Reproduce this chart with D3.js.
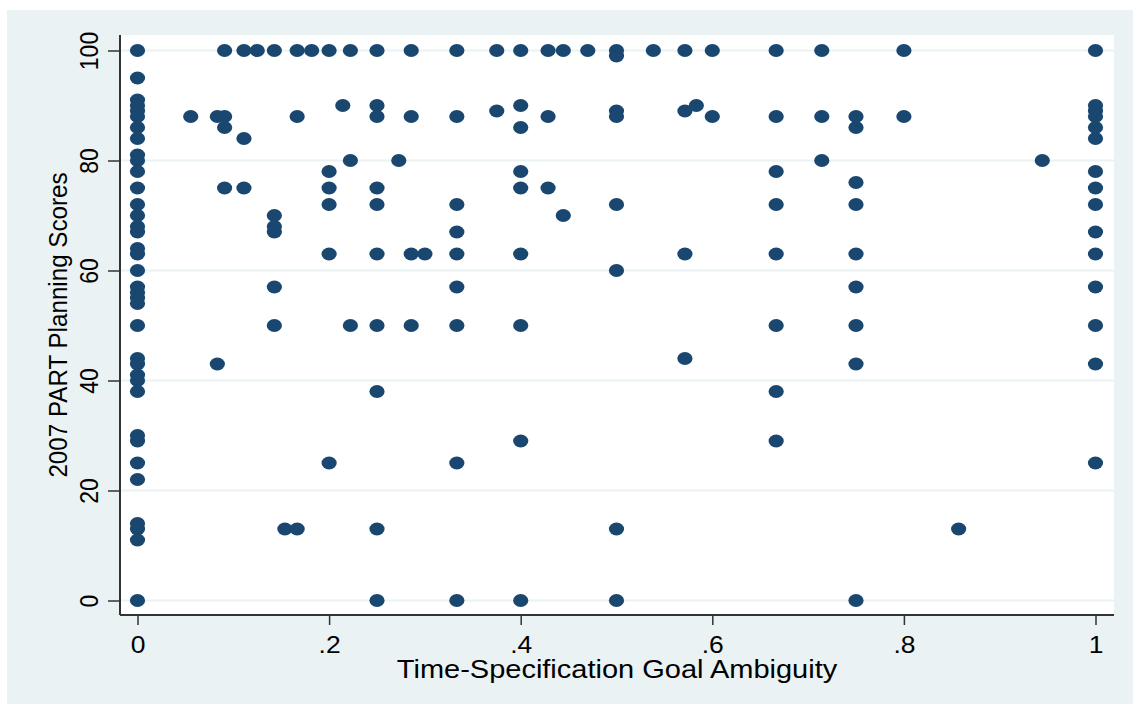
<!DOCTYPE html>
<html>
<head>
<meta charset="utf-8">
<script src="https://cdn.jsdelivr.net/npm/d3@7"></script>
<style>
  body { margin: 0; background: #fff; }
  text { font-family: "Liberation Sans", Arial, sans-serif; fill: #000; }
</style>
</head>
<body>
<svg width="1133" height="704"></svg>
<script>
// x positions (goal ambiguity) and the planning scores stacked at each one
const ambiguity = [0, 1/18, 1/12, 1/11, 1/9, 1/8, 1/7, 2/13, 1/6, 2/11, 0.2, 3/14, 2/9, 0.25, 3/11, 2/7, 0.3, 1/3,
  0.375, 0.4, 3/7, 4/9, 0.47, 0.5, 7/13, 4/7, 7/12, 0.6, 2/3, 5/7, 0.75, 0.8, 6/7, 17/18, 1];

const scores = [
  [100, 95, 91, 90, 89, 88, 86, 84, 81, 80, 78, 75, 72, 70, 68, 67, 64, 63, 60, 57, 56, 55, 54, 50, 44, 43, 41, 40, 38, 30, 29, 25, 22, 14, 13, 11, 0],
  [88],
  [88, 43],
  [100, 88, 86, 75],
  [100, 84, 75],
  [100],
  [100, 70, 68, 67, 57, 50],
  [13],
  [100, 88, 13],
  [100],
  [100, 78, 75, 72, 63, 25],
  [90],
  [100, 80, 50],
  [100, 90, 88, 75, 72, 63, 50, 38, 13, 0],
  [80],
  [100, 88, 63, 50],
  [63],
  [100, 88, 72, 67, 63, 57, 50, 25, 0],
  [100, 89],
  [100, 90, 86, 78, 75, 63, 50, 29, 0],
  [100, 88, 75],
  [100, 70],
  [100],
  [100, 99, 89, 88, 72, 60, 13, 0],
  [100],
  [100, 89, 63, 44],
  [90],
  [100, 88],
  [100, 88, 78, 72, 63, 50, 38, 29],
  [100, 88, 80],
  [88, 86, 76, 72, 63, 57, 50, 43, 0],
  [100, 88],
  [13],
  [80],
  [100, 90, 89, 88, 86, 84, 78, 75, 72, 67, 63, 57, 50, 43, 25]
];

const xTicks = [0, 0.2, 0.4, 0.6, 0.8, 1];
const xTickLabels = ["0", ".2", ".4", ".6", ".8", "1"];
const yTicks = [0, 20, 40, 60, 80, 100];

const svg = d3.select("svg");
const plot = { left: 120, right: 1114, top: 35, bottom: 615 };

const x = d3.scaleLinear().domain([0, 1]).range([137.5, 1095.5]);
const y = d3.scaleLinear().domain([0, 100]).range([600.5, 50.5]);

// outer background and white plot region
svg.append("rect").attr("x", 7).attr("y", 10).attr("width", 1126).attr("height", 694).attr("fill", "#eaf2f3");
svg.append("rect").attr("x", plot.left).attr("y", plot.top)
  .attr("width", plot.right - plot.left).attr("height", plot.bottom - plot.top).attr("fill", "#fff");

// horizontal grid
svg.append("g").selectAll("line").data(yTicks).enter().append("line")
  .attr("x1", plot.left).attr("x2", plot.right)
  .attr("y1", d => y(d)).attr("y2", d => y(d))
  .attr("stroke", "#eaf2f3").attr("stroke-width", 2);

// points
const points = ambiguity.flatMap((a, i) => scores[i].map(s => ({ a, s })));
svg.append("g").selectAll("ellipse").data(points).enter().append("ellipse")
  .attr("cx", d => x(d.a)).attr("cy", d => y(d.s))
  .attr("rx", 7.6).attr("ry", 6.5)
  .attr("fill", "#1a476f");

// axes
const xAxis = d3.axisBottom(x).tickValues(xTicks)
  .tickFormat((d, i) => xTickLabels[i]).tickSize(10);
const gx = svg.append("g").attr("transform", `translate(0,${plot.bottom})`).call(xAxis);
gx.select(".domain").remove();
gx.selectAll("line").attr("stroke", "#333").attr("stroke-width", 1.5);
gx.selectAll("text").attr("font-size", 23).attr("dy", 0).attr("y", 38)
  .attr("transform", "scale(1.15,1)").attr("fill", "#000");

const yAxis = d3.axisLeft(y).tickValues(yTicks).tickSize(12);
const gy = svg.append("g").attr("transform", `translate(${plot.left},0)`).call(yAxis);
gy.select(".domain").remove();
gy.selectAll("line").attr("stroke", "#333").attr("stroke-width", 1.5);
gy.selectAll("text").attr("font-size", 23).attr("x", null).attr("dy", 0)
  .attr("text-anchor", "middle")
  .attr("transform", "translate(-22,0) rotate(-90) scale(1,1.15)").attr("fill", "#000");

svg.append("line").attr("x1", plot.left).attr("x2", plot.left)
  .attr("y1", plot.top).attr("y2", plot.bottom).attr("stroke", "#333").attr("stroke-width", 2);
svg.append("line").attr("x1", plot.left).attr("x2", plot.right)
  .attr("y1", plot.bottom).attr("y2", plot.bottom).attr("stroke", "#333").attr("stroke-width", 2);

// titles
svg.append("text").attr("text-anchor", "middle").attr("font-size", 25)
  .attr("transform", "translate(617,678) scale(1.16,1)")
  .text("Time-Specification Goal Ambiguity");
svg.append("text").attr("text-anchor", "middle").attr("font-size", 24.2)
  .attr("transform", "translate(67,325) rotate(-90) scale(1,1.08)")
  .text("2007 PART Planning Scores");
</script>
</body>
</html>
